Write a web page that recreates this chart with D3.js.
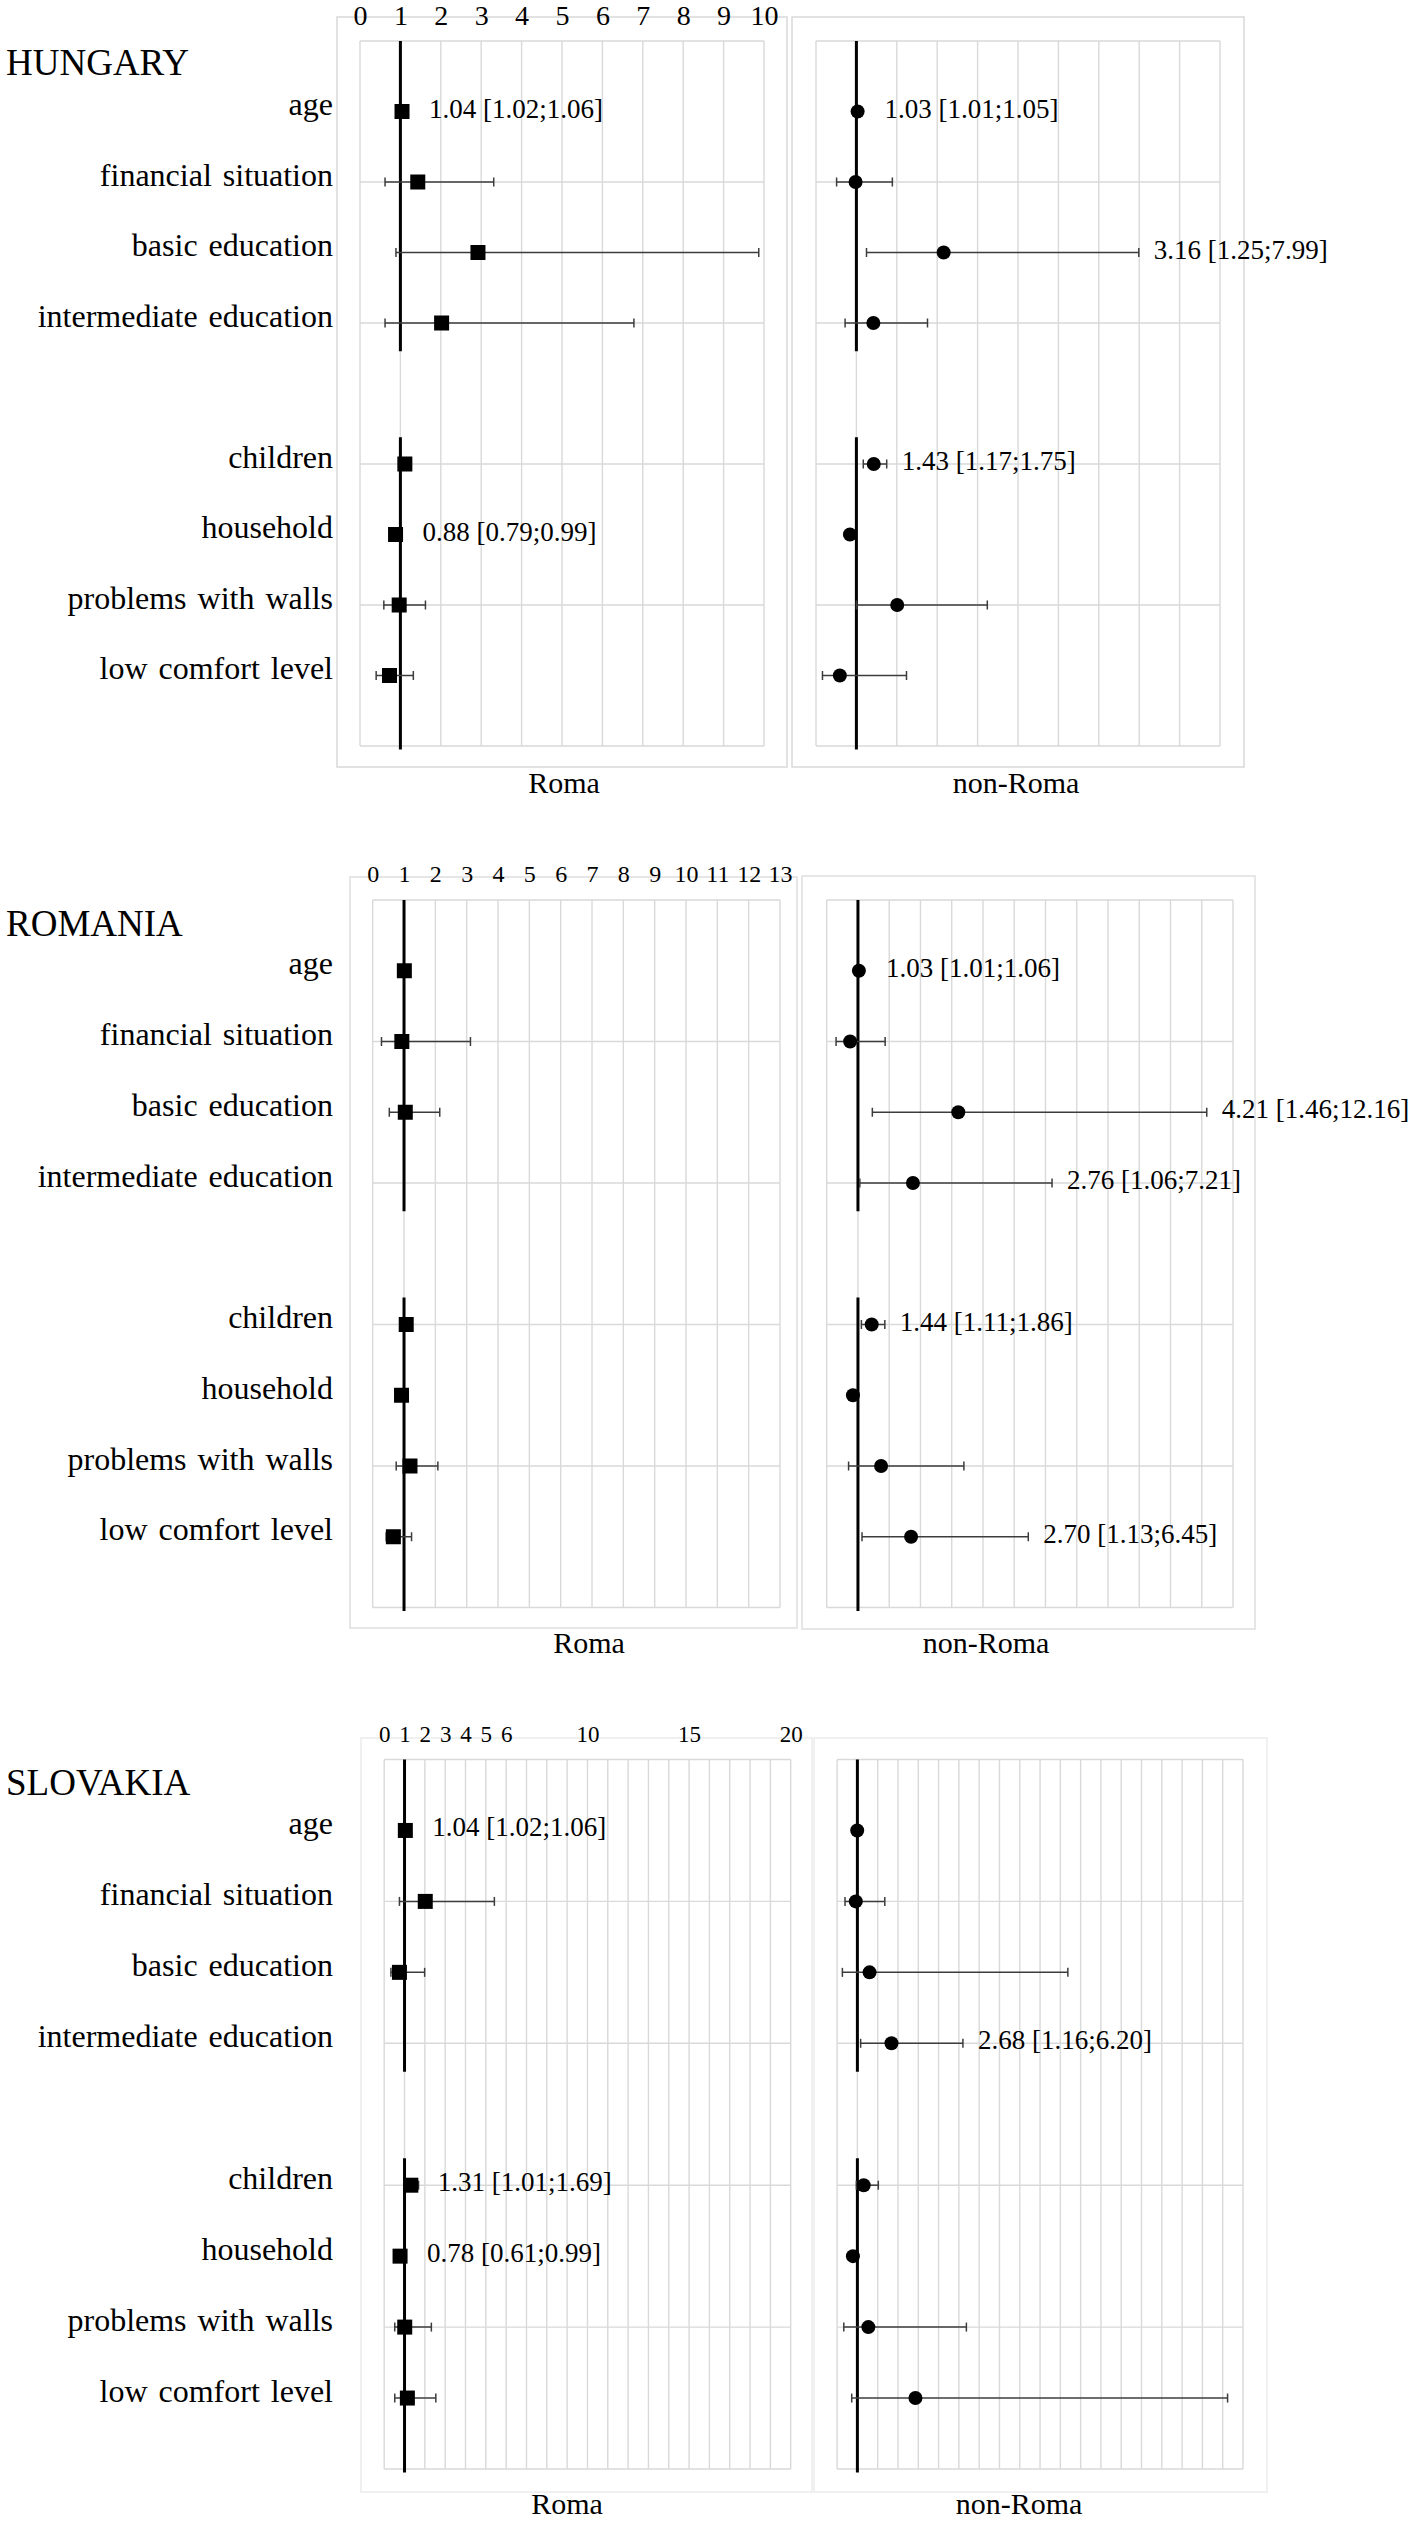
<!DOCTYPE html>
<html>
<head>
<meta charset="utf-8">
<script src="https://cdn.jsdelivr.net/npm/d3@7"></script>
<style>
  body { margin: 0; background: #fff; }
  text { font-family: "Liberation Serif", "Times New Roman", serif; fill: #000; }
</style>
</head>
<body>
<div id="chart"></div>
<script>
// categories, with an empty slot between the two groups of rows (row 4)
var categories = ["age", "financial situation", "basic education", "intermediate education",
                  "children", "household", "problems with walls", "low comfort level"];
var catRows = [0, 1, 2, 3, 5, 6, 7, 8];
var countries = ["HUNGARY", "ROMANIA", "SLOVAKIA"];
var groups = ["Roma", "non-Roma"];
var xMax = [10, 13, 20];
var topTicks = [
  [0, 1, 2, 3, 4, 5, 6, 7, 8, 9, 10],
  [0, 1, 2, 3, 4, 5, 6, 7, 8, 9, 10, 11, 12, 13],
  [0, 1, 2, 3, 4, 5, 6, 10, 15, 20]
];
var refValue = 1;
var refSegments = [[-1, 3.4], [4.62, 9.05]];

// odds ratios and confidence intervals (null = no marker)
var huRomaOR = [1.04, 1.43, 2.92, 2.02, 1.11, 0.88, 0.97, 0.73];
var huRomaLo = [1.02, 0.62, 0.89, 0.62, 1.05, 0.79, 0.59, 0.40];
var huRomaHi = [1.06, 3.31, 9.87, 6.78, 1.17, 0.99, 1.62, 1.32];
var huRomaNote = ["1.04 [1.02;1.06]", "", "", "", "", "0.88 [0.79;0.99]", "", ""];

var huNonOR = [1.03, 0.98, 3.16, 1.42, 1.43, 0.84, 2.01, 0.59];
var huNonLo = [1.01, 0.51, 1.25, 0.72, 1.17, 0.78, 1.00, 0.16];
var huNonHi = [1.05, 1.89, 7.99, 2.76, 1.75, 0.91, 4.24, 2.24];
var huNonNote = ["1.03 [1.01;1.05]", "", "3.16 [1.25;7.99]", "", "1.43 [1.17;1.75]", "", "", ""];

var roRomaOR = [1.01, 0.93, 1.04, null, 1.07, 0.92, 1.19, 0.66];
var roRomaLo = [0.99, 0.28, 0.53, null, 1.00, 0.86, 0.75, 0.43];
var roRomaHi = [1.03, 3.12, 2.14, null, 1.14, 0.98, 2.08, 1.24];
var roRomaNote = ["", "", "", "", "", "", "", ""];

var roNonOR = [1.03, 0.75, 4.21, 2.76, 1.44, 0.84, 1.74, 2.70];
var roNonLo = [1.01, 0.30, 1.46, 1.06, 1.11, 0.78, 0.70, 1.13];
var roNonHi = [1.06, 1.87, 12.16, 7.21, 1.86, 0.90, 4.39, 6.45];
var roNonNote = ["1.03 [1.01;1.06]", "", "4.21 [1.46;12.16]", "2.76 [1.06;7.21]",
                 "1.44 [1.11;1.86]", "", "", "2.70 [1.13;6.45]"];

var skRomaOR = [1.04, 2.02, 0.75, null, 1.31, 0.78, 1.01, 1.14];
var skRomaLo = [1.02, 0.75, 0.33, null, 1.01, 0.61, 0.52, 0.52];
var skRomaHi = [1.06, 5.42, 1.99, null, 1.69, 0.99, 2.32, 2.54];
var skRomaNote = ["1.04 [1.02;1.06]", "", "", "", "1.31 [1.01;1.69]", "0.78 [0.61;0.99]", "", ""];

var skNonOR = [0.99, 0.92, 1.60, 2.68, 1.31, 0.78, 1.54, 3.86];
var skNonLo = [0.97, 0.39, 0.26, 1.16, 0.95, 0.72, 0.33, 0.72];
var skNonHi = [1.01, 2.35, 11.37, 6.20, 2.03, 0.85, 6.37, 19.24];
var skNonNote = ["", "", "", "2.68 [1.16;6.20]", "", "", "", ""];

var series = [
  [{or: huRomaOR, lo: huRomaLo, hi: huRomaHi, note: huRomaNote},
   {or: huNonOR, lo: huNonLo, hi: huNonHi, note: huNonNote}],
  [{or: roRomaOR, lo: roRomaLo, hi: roRomaHi, note: roRomaNote},
   {or: roNonOR, lo: roNonLo, hi: roNonHi, note: roNonNote}],
  [{or: skRomaOR, lo: skRomaLo, hi: skRomaHi, note: skRomaNote},
   {or: skNonOR, lo: skNonLo, hi: skNonHi, note: skNonNote}]
];

// page layout for each country block
var layout = [
  {titleY: 75, tickY: 25, tickFont: 28, top: 41, bottom: 746, boxColor: "#d9d9d9",
   panels: [{x0: 360, x1: 764, box: [337, 17, 787, 767], lab: [564, 793]},
            {x0: 816, x1: 1220, box: [792, 17, 1244, 767], lab: [1016, 793]}]},
  {titleY: 936, tickY: 882, tickFont: 24, top: 900, bottom: 1607.5, boxColor: "#dedede",
   panels: [{x0: 372.7, x1: 780, box: [350, 877, 797, 1628], lab: [589, 1653]},
            {x0: 826.7, x1: 1233, box: [802, 876, 1255, 1629], lab: [986, 1653]}]},
  {titleY: 1795, tickY: 1742, tickFont: 23, top: 1759.5, bottom: 2469, boxColor: "#ececec",
   panels: [{x0: 384.2, x1: 790.7, box: [361, 1738, 812, 2492], lab: [567, 2514]},
            {x0: 837.1, x1: 1243, box: [814, 1738, 1267, 2492], lab: [1019, 2514]}]}
];

var serif = '"Liberation Serif", "Times New Roman", serif';

var svg = d3.select("#chart").append("svg")
  .attr("width", 1417)
  .attr("height", 2521);

countries.forEach(function(country, ci){
  var L = layout[ci];
  var y = d3.scaleLinear().domain([-1, 9]).range([L.top, L.bottom]);
  var g = svg.append("g");

  // outer boxes first
  L.panels.forEach(function(p){
    g.append("rect")
      .attr("x", p.box[0]).attr("y", p.box[1])
      .attr("width", p.box[2] - p.box[0]).attr("height", p.box[3] - p.box[1])
      .attr("fill", "none").attr("stroke", L.boxColor).attr("stroke-width", 1.5);
  });

  // country title
  g.append("text")
    .attr("x", 6).attr("y", L.titleY)
    .style("font-size", "37px")
    .text(country);

  // category labels on the left
  var yAx = g.append("g")
    .attr("transform", "translate(336,0)")
    .call(d3.axisLeft(y).tickValues(catRows).tickSize(0).tickPadding(3)
      .tickFormat(function(d){ return categories[catRows.indexOf(d)]; }));
  yAx.attr("font-family", null).attr("font-size", null);
  yAx.select(".domain").remove();
  yAx.selectAll("text")
    .attr("dy", "0.1em")
    .style("font-family", serif)
    .style("font-size", "32px")
    .style("word-spacing", "3px")
    .attr("fill", "#000");

  L.panels.forEach(function(p, pi){
    var s = series[ci][pi];
    var x = d3.scaleLinear().domain([0, xMax[ci]]).range([p.x0, p.x1]);
    var pg = g.append("g");

    // vertical gridlines
    pg.selectAll(".vg").data(d3.range(0, xMax[ci] + 1)).enter().append("line")
      .attr("x1", function(d){ return x(d); }).attr("x2", function(d){ return x(d); })
      .attr("y1", y(-1)).attr("y2", y(9))
      .attr("stroke", "#d9d9d9").attr("stroke-width", 1.4);
    // horizontal gridlines
    pg.selectAll(".hg").data([-1, 1, 3, 5, 7, 9]).enter().append("line")
      .attr("x1", x(0)).attr("x2", x(xMax[ci]))
      .attr("y1", function(d){ return y(d); }).attr("y2", function(d){ return y(d); })
      .attr("stroke", "#d9d9d9").attr("stroke-width", 1.4);

    // tick labels only above the Roma panel
    if(pi == 0){
      var ax = pg.append("g")
        .attr("transform", "translate(0," + L.tickY + ")")
        .call(d3.axisTop(x).tickValues(topTicks[ci]).tickSize(0).tickPadding(0));
      ax.attr("font-family", null).attr("font-size", null);
      ax.select(".domain").remove();
      ax.selectAll("text")
        .style("font-family", serif)
        .style("font-size", L.tickFont + "px")
        .attr("fill", "#000");
    }

    // reference line at 1
    pg.selectAll(".ref").data(refSegments).enter().append("line")
      .attr("x1", x(refValue)).attr("x2", x(refValue))
      .attr("y1", function(d){ return y(d[0]); }).attr("y2", function(d){ return y(d[1]); })
      .attr("stroke", "#000").attr("stroke-width", 3);

    var idx = d3.range(catRows.length).filter(function(i){ return s.or[i] != null; });

    // confidence intervals
    idx.forEach(function(i){
      var yy = y(catRows[i]);
      var eb = pg.append("g").attr("stroke", "#3c3c3c").attr("stroke-width", 1.5);
      eb.append("line").attr("x1", x(s.lo[i])).attr("x2", x(s.hi[i])).attr("y1", yy).attr("y2", yy);
      [s.lo[i], s.hi[i]].forEach(function(v){
        eb.append("line").attr("x1", x(v)).attr("x2", x(v)).attr("y1", yy - 4.5).attr("y2", yy + 4.5);
      });
    });

    // markers: squares for Roma, circles for non-Roma
    idx.forEach(function(i){
      var cx = x(s.or[i]), cy = y(catRows[i]);
      if(pi == 0){
        pg.append("rect")
          .attr("x", cx - 7.5).attr("y", cy - 7.5)
          .attr("width", 15).attr("height", 15)
          .attr("fill", "#000");
      } else {
        pg.append("circle")
          .attr("cx", cx).attr("cy", cy).attr("r", 7)
          .attr("fill", "#000");
      }
    });

    // value annotations
    idx.forEach(function(i){
      if(!s.note[i]) return;
      pg.append("text")
        .attr("x", Math.max(x(s.or[i]) + 27, x(s.hi[i]) + 15))
        .attr("y", y(catRows[i]) + 6)
        .style("font-size", "27px")
        .text(s.note[i]);
    });

    // group label under the panel
    pg.append("text")
      .attr("x", p.lab[0]).attr("y", p.lab[1])
      .attr("text-anchor", "middle")
      .style("font-size", "30px")
      .text(groups[pi]);
  });
});
</script>
</body>
</html>
